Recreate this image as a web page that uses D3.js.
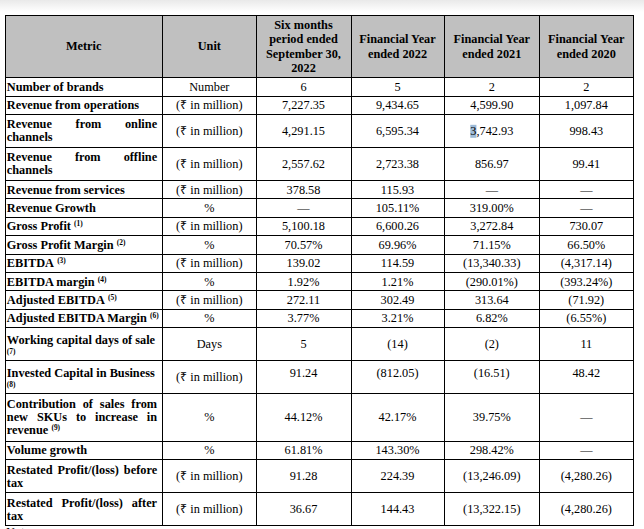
<!DOCTYPE html>
<html><head><meta charset="utf-8">
<script src="https://cdn.jsdelivr.net/npm/d3@7"></script>
<style>html,body{margin:0;padding:0;background:#fff;overflow:hidden} svg{display:block}</style>
</head><body>
<svg id="chart" width="644" height="529"></svg>
<script>
// ---------- DATA ----------
const columnHeaders = ["Metric", "Unit", "Six months|period ended|September 30,|2022", "Financial Year|ended 2022", "Financial Year|ended 2021", "Financial Year|ended 2020"];
const metrics = [
  "Number of brands",
  "Revenue from operations",
  "Revenue from online|channels",
  "Revenue from offline|channels",
  "Revenue from services",
  "Revenue Growth",
  "Gross Profit ^(1)",
  "Gross Profit Margin ^(2)",
  "EBITDA ^(3)",
  "EBITDA margin ^(4)",
  "Adjusted EBITDA ^(5)",
  "Adjusted EBITDA Margin ^(6)",
  "Working capital days of sale|^(7)",
  "Invested Capital in Business|^(8)",
  "Contribution of sales from|new SKUs to increase in|revenue ^(9)",
  "Volume growth",
  "Restated Profit/(loss) before|tax",
  "Restated Profit/(loss) after|tax"
];
const RS = "(₹ in million)";
const units = ["Number", RS, RS, RS, RS, "%", RS, "%", RS, "%", RS, "%", "Days", RS, "%", "%", RS, RS];
const sixMonthsSep2022 = ["6", "7,227.35", "4,291.15", "2,557.62", "378.58", "—", "5,100.18", "70.57%", "139.02", "1.92%", "272.11", "3.77%", "5", "91.24", "44.12%", "61.81%", "91.28", "36.67"];
const fy2022 = ["5", "9,434.65", "6,595.34", "2,723.38", "115.93", "105.11%", "6,600.26", "69.96%", "114.59", "1.21%", "302.49", "3.21%", "(14)", "(812.05)", "42.17%", "143.30%", "224.39", "144.43"];
const fy2021 = ["2", "4,599.90", "3,742.93", "856.97", "—", "319.00%", "3,272.84", "71.15%", "(13,340.33)", "(290.01%)", "313.64", "6.82%", "(2)", "(16.51)", "39.75%", "298.42%", "(13,246.09)", "(13,322.15)"];
const fy2020 = ["2", "1,097.84", "998.43", "99.41", "—", "—", "730.07", "66.50%", "(4,317.14)", "(393.24%)", "(71.92)", "(6.55%)", "11", "48.42", "—", "—", "(4,280.26)", "(4,280.26)"];
const valueSeries = [sixMonthsSep2022, fy2022, fy2021, fy2020];

// ---------- LAYOUT ----------
const svg = d3.select("#chart");
const FONT = "'Liberation Serif','Times New Roman',Times,serif";
const FS = 12.3, SUP_FS = 7.4;
const LEFT = 5, TOP = 15;
const colWidths = [157.3, 94, 94.4, 93.6, 95, 94];
const colEdges = [LEFT, ...Array.from(d3.cumsum(colWidths), c => LEFT + c)];
const xCol = d3.scaleOrdinal().domain(d3.range(colWidths.length)).range(colEdges.slice(0, -1));
const LINE_UNIT = 14.6, ROW_PAD = 3.8;
const headerLines = columnHeaders.map(s => s.split("|"));
const rowLines = metrics.map(s => s.split("|"));
const headerH = ROW_PAD + LINE_UNIT * d3.max(headerLines, l => l.length);
const rowH = rowLines.map(l => ROW_PAD + LINE_UNIT * l.length);
const bodyTop = TOP + headerH;
const rowEdges = [bodyTop, ...Array.from(d3.cumsum(rowH), c => bodyTop + c)];
const yRow = d3.scaleOrdinal().domain(d3.range(metrics.length)).range(rowEdges.slice(0, -1));
const RIGHT = colEdges[colEdges.length - 1], BOTTOM = rowEdges[rowEdges.length - 1];
const topAlignedValues = new Set([13]);

svg.attr("font-family", FONT).attr("fill", "#000");

// top shadow
const defs = svg.append("defs");
const gr = defs.append("linearGradient").attr("id", "shade").attr("x1", 0).attr("x2", 0).attr("y1", 0).attr("y2", 1);
gr.append("stop").attr("offset", 0).attr("stop-color", "#e9e9e9");
gr.append("stop").attr("offset", 1).attr("stop-color", "#ffffff");
svg.append("rect").attr("x", 0).attr("y", 0).attr("width", 644).attr("height", 12).attr("fill", "url(#shade)");

// header background
svg.append("rect").attr("x", LEFT).attr("y", TOP).attr("width", RIGHT - LEFT).attr("height", headerH).attr("fill", "#c0c0c0");

const meas = svg.append("text").attr("visibility", "hidden");
function textW(str, size, weight) {
  meas.attr("font-size", size).attr("font-weight", weight).text(str);
  return meas.node().getComputedTextLength();
}

// header text
const HLS = 14.2;
headerLines.forEach((lines, c) => {
  const cx = xCol(c) + colWidths[c] / 2;
  const cy = TOP + headerH / 2;
  lines.forEach((ln, k) => {
    svg.append("text").attr("x", cx).attr("y", cy + (k - (lines.length - 1) / 2) * HLS)
      .attr("dy", "0.35em").attr("text-anchor", "middle").attr("font-size", FS).attr("font-weight", "bold").text(ln);
  });
});

// body
const BLS = 13, SUP_LS = 8;
const xL = colEdges[0] + 1.8, xR = colEdges[1] - 5.2;
rowLines.forEach((lines, r) => {
  const y0 = yRow(r), h = rowH[r];
  const lh = lines.map(l => (l.trim().startsWith("^") ? SUP_LS : BLS));
  const total = d3.sum(lh);
  let cur = y0 + h / 2 - total / 2;
  const centers = lh.map(v => { const c = cur + v / 2; cur += v; return c; });
  lines.forEach((ln, k) => {
    const tokens = ln.split(" ").filter(t => t);
    const cy = centers[k];
    const base = cy + 0.35 * FS;
    if (tokens.length === 1 && tokens[0].startsWith("^")) {
      svg.append("text").attr("x", xL).attr("y", cy + 0.35 * SUP_FS + 1).attr("font-size", SUP_FS).attr("font-weight", "bold").text(tokens[0].slice(1));
      return;
    }
    const justify = k < lines.length - 1 && !(lines[k + 1].trim().startsWith("^")) && tokens.length > 1;
    if (justify) {
      const widths = tokens.map(t => textW(t, FS, "bold"));
      const gap = (xR - xL - d3.sum(widths)) / (tokens.length - 1);
      let x = xL;
      tokens.forEach((t, j) => {
        svg.append("text").attr("x", x).attr("y", base).attr("font-size", FS).attr("font-weight", "bold").text(t);
        x += widths[j] + gap;
      });
    } else {
      const main = tokens.filter(t => !t.startsWith("^")).join(" ");
      const sup = tokens.filter(t => t.startsWith("^")).map(t => t.slice(1));
      svg.append("text").attr("x", xL).attr("y", base).attr("font-size", FS).attr("font-weight", "bold").text(main);
      if (sup.length) {
        const w = textW(main, FS, "bold");
        svg.append("text").attr("x", xL + w + 3.2).attr("y", base - 4).attr("font-size", SUP_FS).attr("font-weight", "bold").text(sup.join(" "));
      }
    }
  });
  // unit
  svg.append("text").attr("x", xCol(1) + colWidths[1] / 2).attr("y", y0 + h / 2).attr("dy", "0.35em")
    .attr("text-anchor", "middle").attr("font-size", FS).text(units[r]);
  // values
  const vy = topAlignedValues.has(r) ? centers[0] : y0 + h / 2;
  valueSeries.forEach((series, s) => {
    const c = s + 2;
    const t = svg.append("text").attr("x", xCol(c) + colWidths[c] / 2).attr("y", vy).attr("dy", "0.35em")
      .attr("text-anchor", "middle").attr("font-size", FS).text(series[r]);
    if (r === 2 && s === 2) {
      const e = t.node().getExtentOfChar(0);
      svg.insert("rect", "text").attr("x", e.x).attr("y", e.y + 1).attr("width", e.width).attr("height", e.height - 1).attr("fill", "#9dbbd8");
    }
  });
});

// grid lines
const crisp = v => Math.round(v) + 0.5;
const grid = svg.append("g").attr("stroke", "#000").attr("stroke-width", 1).attr("shape-rendering", "crispEdges");
[TOP, ...rowEdges].forEach(y => grid.append("line").attr("x1", LEFT).attr("x2", RIGHT + 1).attr("y1", crisp(y)).attr("y2", crisp(y)));
colEdges.forEach(x => grid.append("line").attr("x1", crisp(x)).attr("x2", crisp(x)).attr("y1", TOP).attr("y2", BOTTOM + 1));

// cut-off note below
svg.append("text").attr("x", 6).attr("y", 535.5).attr("font-size", FS).text("Note:");
meas.remove();
</script>
</body></html>
